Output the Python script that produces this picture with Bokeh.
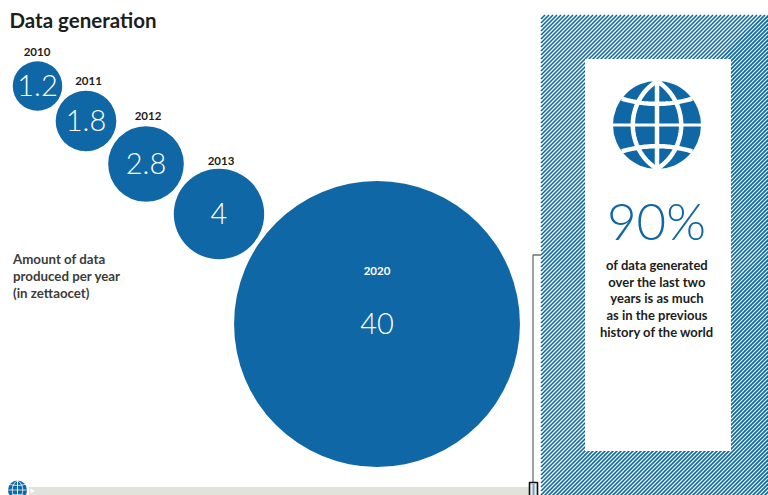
import math
from bokeh.plotting import figure
from bokeh.models import Range1d
from bokeh.core.properties import value
from bokeh.embed import file_html
from bokeh.resources import INLINE

# Data generated per year, in zettaoctets
years = ["2010", "2011", "2012", "2013", "2020"]
amounts = [1.2, 1.8, 2.8, 4, 40]
amount_labels = ["1.2", "1.8", "2.8", "4", "40"]

# Bubble layout on the page, in pixels
centers_x = [37.5, 86, 146, 219, 377]
centers_y = [86, 121, 164, 214, 324]
year_label_x = [37, 88.5, 148, 221, 377]
year_label_y = [52, 80.5, 116, 160.5, 270.5]
PX_PER_SQRT_UNIT = 22.6

BLUE = "#1067a5"
INK = "#1d1d1b"
SANS_BOLD = value("Lato")
SANS_LIGHT = value("Lato Light")

p = figure(width=768, height=495, output_backend="svg", toolbar_location=None,
           x_range=Range1d(0.5, 768.5), y_range=Range1d(495.5, 0.5),
           min_border=0, outline_line_color=None, background_fill_color="white")
p.axis.visible = False
p.grid.visible = False

# Bubbles: area is proportional to the amount
radii = [PX_PER_SQRT_UNIT * math.sqrt(v) for v in amounts]
p.circle(x=centers_x, y=centers_y, radius=radii, fill_color=BLUE, line_color=None)

p.text(x=centers_x, y=[c - 0.5 for c in centers_y], text=amount_labels, text_font=SANS_LIGHT,
       text_font_size="29px", text_color="white", text_align="center", text_baseline="middle")

for x, y, yr in zip(year_label_x, year_label_y, years):
    color = "white" if yr == "2020" else INK
    p.text(x=[x], y=[y], text=[yr], text_font=SANS_BOLD, text_font_style="bold",
           text_font_size="11.5px", text_color=color,
           text_align="center", text_baseline="middle")

# Title and side note
p.text(x=[9.5], y=[20], text=["Data generation"], text_font=SANS_BOLD, text_font_style="bold",
       text_font_size="20.5px", text_color=INK, text_align="left", text_baseline="middle")
note_lines = ["Amount of data", "produced per year", "(in zettaocet)"]
for line, y in zip(note_lines, [259, 276, 293]):
    p.text(x=[13], y=[y], text=[line], text_font=SANS_BOLD, text_font_style="bold",
           text_font_size="13.3px", text_color="#3c3c3b", text_align="left", text_baseline="middle")


def diagonal_stripes(left, right, top, bottom, pitch):
    """Rising diagonal segments that fill a box, clipped to its edges."""
    xs, ys = [], []
    c = left + top + pitch
    while c < right + bottom:
        # each stripe satisfies x + y = c
        x0 = max(left, c - bottom)
        x1 = min(right, c - top)
        if x1 > x0:
            xs.append([x0, x1])
            ys.append([c - x0, c - x1])
        c += pitch
    return xs, ys


# Hatched panel with white inset
stripe_xs, stripe_ys = diagonal_stripes(541, 770, 15, 497, 4)
p.multi_line(xs=stripe_xs, ys=stripe_ys, line_color=BLUE, line_width=1.6)
p.quad(left=[585], right=[731], top=[59], bottom=[451], fill_color="white", line_color=None)


def draw_globe(cx, cy, r, gap):
    """Globe pictogram: a disc cut by white meridians and parallels."""
    p.circle(x=[cx], y=[cy], radius=[r], fill_color=BLUE, line_color=None)
    # meridians are circular arcs through both poles
    bulge = 0.55 * r
    big = (r ** 2 + bulge ** 2) / (2 * bulge)
    heights = [-r + 2 * r * t / 40 for t in range(41)]
    offsets = [math.sqrt(big ** 2 - h ** 2) - (big - bulge) for h in heights]
    for sign in (-1, 1):
        p.line(x=[cx + sign * o for o in offsets], y=[cy + h for h in heights],
               line_color="white", line_width=gap)
    p.line(x=[cx, cx], y=[cy - r, cy + r], line_color="white", line_width=gap)
    p.line(x=[cx - r, cx + r], y=[cy, cy], line_color="white", line_width=gap * 0.7)
    # parallels sag towards the equator in the middle
    dxs = [-r + 2 * r * t / 40 for t in range(41)]
    for sign in (-1, 1):
        pts = [(cx + d, cy + sign * (0.48 * r + 0.12 * r * (d / (0.8 * r)) ** 2)) for d in dxs]
        pts = [(a, b) for a, b in pts if (a - cx) ** 2 + (b - cy) ** 2 <= (r + 1.5) ** 2]
        p.line(x=[a for a, _ in pts], y=[b for _, b in pts], line_color="white", line_width=gap)


draw_globe(657, 125, 44, 4.5)

# Panel text
p.text(x=[656.5], y=[220], text=["90%"], text_font=SANS_LIGHT, text_font_size="51px",
       text_color=BLUE, text_align="center", text_baseline="middle")
panel_lines = ["of data generated", "over the last two", "years is as much",
               "as in the previous", "history of the world"]
for line, y in zip(panel_lines, [265, 282, 298, 315, 332]):
    p.text(x=[657], y=[y], text=[line], text_font=SANS_BOLD, text_font_style="bold",
           text_font_size="13px", text_color=INK, text_align="center", text_baseline="middle")

# Timeline strip at the foot of the page
p.quad(left=[29], right=[529], top=[487], bottom=[497], fill_color="#e2e2dc", line_color=None)
p.scatter(x=[32], y=[491], marker="triangle", angle=[-math.pi / 2], size=5, fill_color="white", line_color=None)
draw_globe(17.5, 490, 9.5, 1)

# Pointer from the timeline marker to the panel
p.line(x=[541, 533, 533], y=[255, 255, 482], line_color="#6f6f6f", line_width=1.3)
p.quad(left=[529.5], right=[537.5], top=[482.5], bottom=[497], fill_color="#eeeeea", line_color="#111111", line_width=1.6)
p.line(x=[533.5, 533.5], y=[484, 497], line_color="#6fa3cb", line_width=2)

open("out.html", "w").write(file_html(p, INLINE))
